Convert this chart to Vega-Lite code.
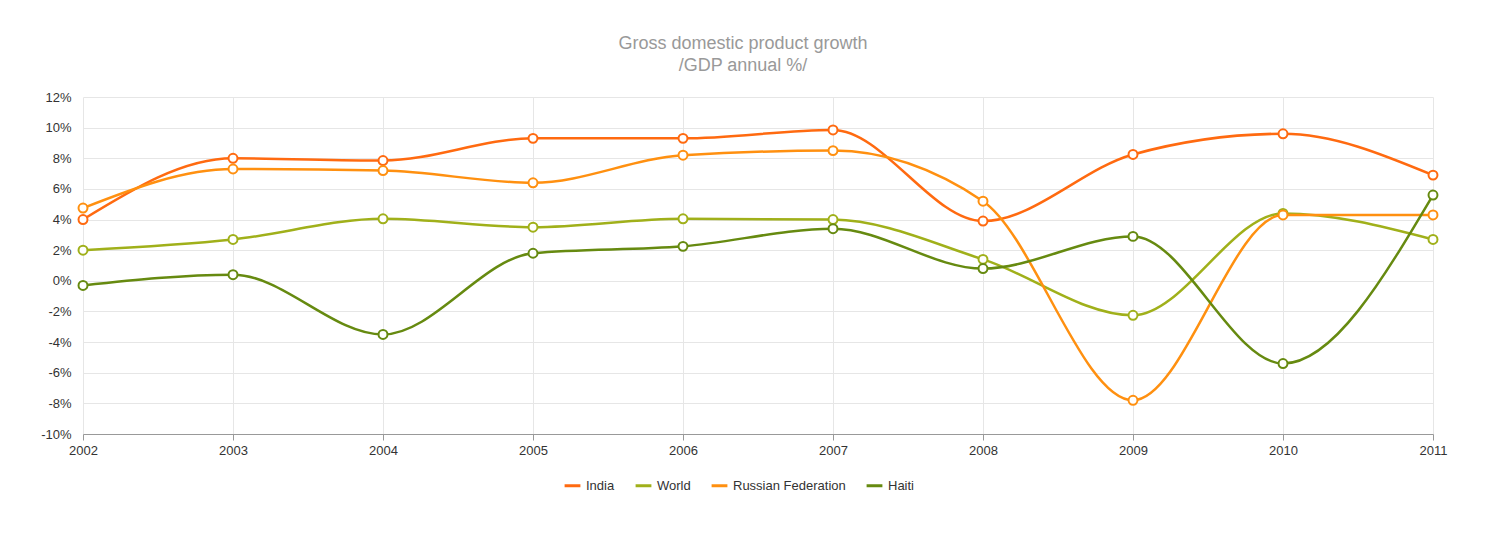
{
  "$schema": "https://vega.github.io/schema/vega-lite/v6.json",
  "width": 1350,
  "height": 337,
  "autosize": "none",
  "padding": {"left": 83, "top": 97, "right": 72, "bottom": 106},
  "background": "white",
  "title": {
    "text": ["Gross domestic product growth", "/GDP annual %/"],
    "fontSize": 18, "font": "Arial", "fontWeight": "normal", "color": "#999999",
    "offset": 16, "lineHeight": 22, "dx": -15
  },
  "data": {
    "values": [
      {"year": 2002, "series": "India", "v": 4.0}, {"year": 2003, "series": "India", "v": 8.0},
      {"year": 2004, "series": "India", "v": 7.85}, {"year": 2005, "series": "India", "v": 9.3},
      {"year": 2006, "series": "India", "v": 9.3}, {"year": 2007, "series": "India", "v": 9.85},
      {"year": 2008, "series": "India", "v": 3.9}, {"year": 2009, "series": "India", "v": 8.25},
      {"year": 2010, "series": "India", "v": 9.6}, {"year": 2011, "series": "India", "v": 6.9},
      {"year": 2002, "series": "World", "v": 2.0}, {"year": 2003, "series": "World", "v": 2.7},
      {"year": 2004, "series": "World", "v": 4.05}, {"year": 2005, "series": "World", "v": 3.5},
      {"year": 2006, "series": "World", "v": 4.05}, {"year": 2007, "series": "World", "v": 4.0},
      {"year": 2008, "series": "World", "v": 1.4}, {"year": 2009, "series": "World", "v": -2.25},
      {"year": 2010, "series": "World", "v": 4.4}, {"year": 2011, "series": "World", "v": 2.7},
      {"year": 2002, "series": "Russian Federation", "v": 4.75}, {"year": 2003, "series": "Russian Federation", "v": 7.3},
      {"year": 2004, "series": "Russian Federation", "v": 7.2}, {"year": 2005, "series": "Russian Federation", "v": 6.4},
      {"year": 2006, "series": "Russian Federation", "v": 8.2}, {"year": 2007, "series": "Russian Federation", "v": 8.5},
      {"year": 2008, "series": "Russian Federation", "v": 5.2}, {"year": 2009, "series": "Russian Federation", "v": -7.8},
      {"year": 2010, "series": "Russian Federation", "v": 4.3}, {"year": 2011, "series": "Russian Federation", "v": 4.3},
      {"year": 2002, "series": "Haiti", "v": -0.3}, {"year": 2003, "series": "Haiti", "v": 0.4},
      {"year": 2004, "series": "Haiti", "v": -3.5}, {"year": 2005, "series": "Haiti", "v": 1.8},
      {"year": 2006, "series": "Haiti", "v": 2.25}, {"year": 2007, "series": "Haiti", "v": 3.4},
      {"year": 2008, "series": "Haiti", "v": 0.8}, {"year": 2009, "series": "Haiti", "v": 2.9},
      {"year": 2010, "series": "Haiti", "v": -5.4}, {"year": 2011, "series": "Haiti", "v": 5.6}
    ]
  },
  "encoding": {
    "x": {
      "field": "year", "type": "quantitative", "title": null,
      "scale": {"domain": [2002, 2011], "nice": false, "zero": false},
      "axis": {"format": "d", "values": [2002, 2003, 2004, 2005, 2006, 2007, 2008, 2009, 2010, 2011], "labelFlush": false, "domainColor": "#999999", "tickColor": "#999999", "tickSize": 6, "labelPadding": 4}
    },
    "y": {
      "field": "v", "type": "quantitative", "title": null,
      "scale": {"domain": [-10, 12], "nice": false},
      "axis": {"values": [-10, -8, -6, -4, -2, 0, 2, 4, 6, 8, 10, 12], "labelExpr": "datum.value + '%'", "domain": false, "ticks": false, "labelPadding": 12}
    },
    "color": {
      "field": "series", "type": "nominal", "title": null,
      "sort": ["India", "World", "Russian Federation", "Haiti"],
      "scale": {"domain": ["India", "World", "Russian Federation", "Haiti"], "range": ["#FF6A10", "#A0B01A", "#FF9010", "#668A10"]},
      "legend": {"orient": "none", "legendX": 480, "legendY": 379, "direction": "horizontal", "symbolType": "stroke", "symbolStrokeWidth": 3, "symbolSize": 250, "labelFontSize": 13, "labelColor": "#333333", "columnPadding": 14}
    }
  },
  "layer": [
    {"mark": {"type": "line", "interpolate": "monotone", "strokeWidth": 2.5}},
    {"mark": {"type": "point", "filled": true, "fill": "white", "size": 80, "strokeWidth": 2, "opacity": 1}, "encoding": {"stroke": {"field": "series", "type": "nominal", "legend": null, "scale": {"domain": ["India", "World", "Russian Federation", "Haiti"], "range": ["#FF6A10", "#A0B01A", "#FF9010", "#668A10"]}}}}
  ],
  "config": {
    "font": "Arial",
    "view": {"stroke": null},
    "axis": {"gridColor": "#e6e6e6", "labelFontSize": 13, "labelColor": "#333333"}
  }
}
